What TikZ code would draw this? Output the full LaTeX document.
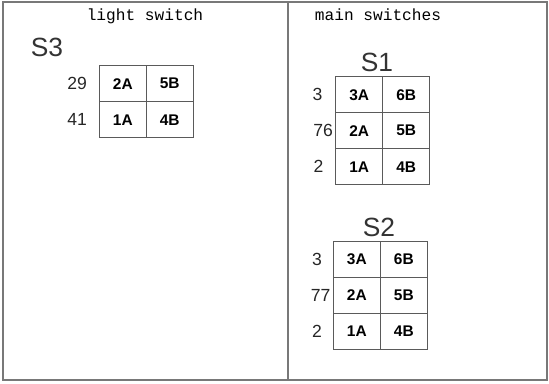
\documentclass[tikz,border=0pt]{standalone}
\usepackage{fontspec}
\setmainfont{Liberation Sans}
\setmonofont{Liberation Mono}
\definecolor{FrameColor}{RGB}{120,120,120}
\definecolor{GridColor}{RGB}{90,90,90}
\usetikzlibrary{positioning}
\tikzset{
    frame/.style={draw=FrameColor, line width=0.7pt},
    cell/.style={
        draw=GridColor,
        line width=0.6pt,
        minimum width=0.94cm,
        minimum height=0.72cm,
        inner sep=0pt,
        outer sep=0pt,
        font=\bfseries\fontsize{8.8}{10}\selectfont
    },
    num/.style={inner sep=0pt, font=\fontsize{10}{12}\selectfont, text=black!85},
    swname/.style={inner sep=0pt, font=\fontsize{15}{18}\selectfont, text=black!80},
    header/.style={inner sep=0pt, font=\ttfamily\fontsize{9.2}{11}\selectfont}
}

\begin{document}
\begin{tikzpicture}[x=0.02cm, y=-0.02cm, node distance=0pt]
    \useasboundingbox (0,0) rectangle (549,383);
    % Frame
    \draw[frame] (3,2) rectangle (547,380);
    \draw[frame] (288,2) -- (288,380);

    % Headers
    \node[header] (light) at (145,16) {light switch};
    \node[header] (main) at (378,15) {main switches};

    % S3
    \node[swname] (s3) at (47,47) {S3};
    \node[cell, anchor=north west] (s3a) at (99.3,65.7) {2A};
    \node[cell, right=of s3a] (s3b) {5B};
    \node[cell, below=of s3a] (s3c) {1A};
    \node[cell, right=of s3c] (s3d) {4B};
    \node[num, left=0.24cm of s3a] (s3n1) {29};
    \node[num, left=0.24cm of s3c] (s3n2) {41};

    % S1
    \node[swname] (s1) at (377,62) {S1};
    \node[cell, anchor=north west] (s1a) at (335.7,76.7) {3A};
    \node[cell, right=of s1a] (s1b) {6B};
    \node[cell, below=of s1a] (s1c) {2A};
    \node[cell, right=of s1c] (s1d) {5B};
    \node[cell, below=of s1c] (s1e) {1A};
    \node[cell, right=of s1e] (s1f) {4B};
    \node[num, left=0.26cm of s1a] (s1n1) {3};
    \node[num, left=0.05cm of s1c] (s1n2) {76};
    \node[num, left=0.24cm of s1e] (s1n3) {2};

    % S2
    \node[swname] (s2) at (379,227) {S2};
    \node[cell, anchor=north west] (s2a) at (333.3,241.3) {3A};
    \node[cell, right=of s2a] (s2b) {6B};
    \node[cell, below=of s2a] (s2c) {2A};
    \node[cell, right=of s2c] (s2d) {5B};
    \node[cell, below=of s2c] (s2e) {1A};
    \node[cell, right=of s2e] (s2f) {4B};
    \node[num, left=0.22cm of s2a] (s2n1) {3};
    \node[num, left=0.05cm of s2c] (s2n2) {77};
    \node[num, left=0.22cm of s2e] (s2n3) {2};
\end{tikzpicture}
\end{document}
